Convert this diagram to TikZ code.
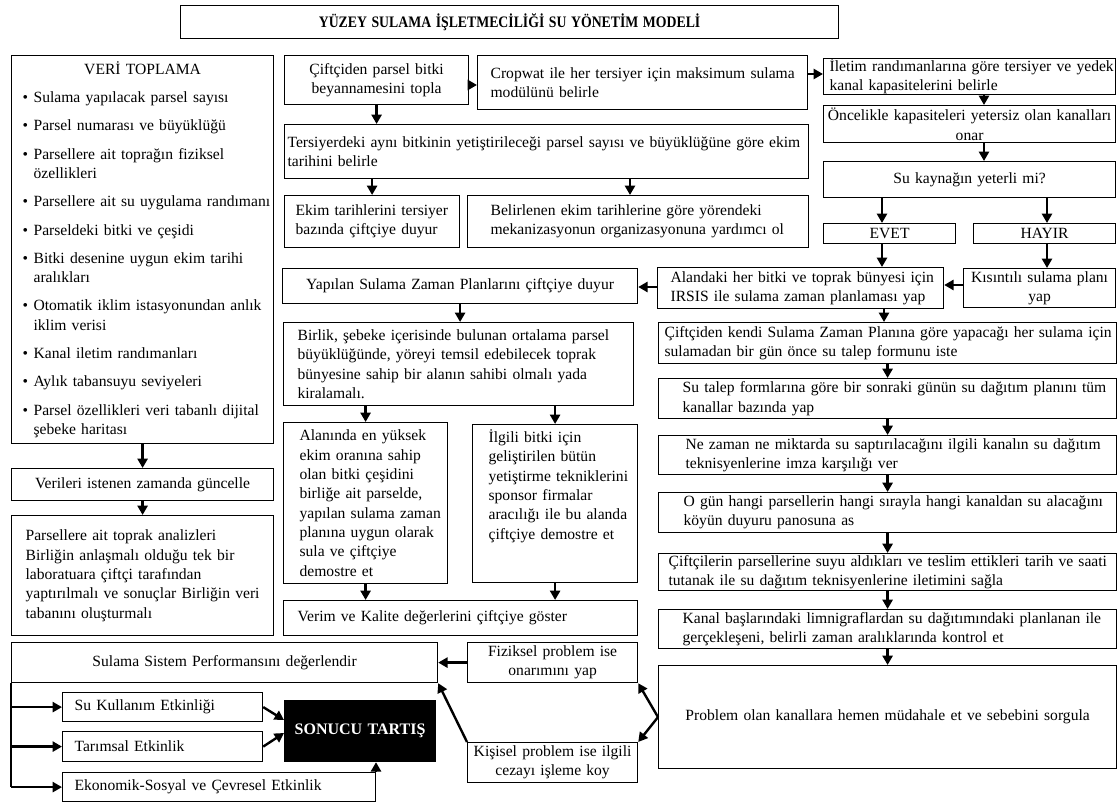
\documentclass[tikz,border=0pt]{standalone}
\usepackage{fontspec}
\usepackage{graphicx}
\setmainfont{Liberation Serif}
\usetikzlibrary{arrows.meta}

\newcommand{\pu}{0.75pt}
\newcommand{\vitem}[1]{\par\vspace{6.7pt}\hangindent=8.25pt\hangafter=1\noindent\hbox to 8.25pt{\textbullet\hfil}#1}

\tikzset{
  box/.style={draw, line width=0.9pt, inner sep=0pt, anchor=north west,
    font=\fontsize{11.7}{14.5}\selectfont},
  lbox/.style n args={3}{box, align=left, minimum width=#1*\pu, minimum height=#2*\pu,
    text width=#1*\pu,
    execute at begin node={\pgfmathsetlength\leftskip{#3*\pu}\rightskip=-10pt plus 1fil\relax}},
  cbox/.style 2 args={box, align=center, minimum width=#1*\pu, minimum height=#2*\pu,
    text width=#1*\pu},
  arr/.style={-{Triangle[length=7pt,width=7.5pt]}, line width=1.8pt},
}

\begin{document}
\begin{tikzpicture}[x=0.75pt, y=-0.75pt, line join=miter]
  \useasboundingbox (0,0) rectangle (1118,802);

  % title
  \node[cbox={658}{33}, font=\fontsize{12}{14.5}\selectfont\bfseries] (title) at (180,5)
    {\scalebox{0.86}[1]{YÜZEY SULAMA İŞLETMECİLİĞİ SU YÖNETİM MODELİ}};

  % left column: data collection
  \node[lbox={262}{388}{11}] (veri) at (11,55) {{\centering VERİ TOPLAMA\par}
    \vitem{Sulama yapılacak parsel sayısı}
    \vitem{Parsel numarası ve büyüklüğü}
    \vitem{Parsellere ait toprağın fiziksel\newline özellikleri}
    \vitem{Parsellere ait su uygulama randımanı}
    \vitem{Parseldeki bitki ve çeşidi}
    \vitem{Bitki desenine uygun ekim tarihi\newline aralıkları}
    \vitem{Otomatik iklim istasyonundan anlık\newline iklim verisi}
    \vitem{Kanal iletim randımanları}
    \vitem{Aylık tabansuyu seviyeleri}
    \vitem{Parsel özellikleri veri tabanlı dijital\newline şebeke haritası}\par};
  \node[cbox={262}{32}] (guncel) at (11,468) {Verileri istenen zamanda güncelle};
  \node[lbox={262}{120}{14}] (analiz) at (11,515) {Parsellere ait toprak analizleri\\
    Birliğin anlaşmalı olduğu tek bir\\ laboratuara çiftçi tarafından\\
    yaptırılmalı ve sonuçlar Birliğin veri\\ tabanını oluşturmalı};

  % middle column
  \node[cbox={184}{49}] (ciftci) at (284,55) {Çiftçiden parsel bitki\\ beyannamesini topla};
  \node[lbox={330}{54}{13}] (cropwat) at (477,55) {Cropwat ile her tersiyer için maksimum sulama\\ modülünü belirle};
  \node[lbox={524}{54}{3}] (tersiyer) at (284,124) {Tersiyerdeki aynı bitkinin yetiştirileceği parsel sayısı ve büyüklüğüne göre ekim\\ tarihini belirle};
  \node[lbox={175}{52}{11}] (ekim) at (284,195) {Ekim tarihlerini tersiyer\\ bazında çiftçiye duyur};
  \node[lbox={341}{52}{23}] (mekan) at (467,195) {Belirlenen ekim tarihlerine göre yörendeki\\ mekanizasyonun organizasyonuna yardımcı ol};
  \node[cbox={355}{35}] (yapilan) at (282,268) {Yapılan Sulama Zaman Planlarını çiftçiye duyur};
  \node[lbox={350}{83}{14}] (birlik) at (283,322) {Birlik, şebeke içerisinde bulunan ortalama parsel\\
    büyüklüğünde, yöreyi temsil edebilecek toprak\\ bünyesine sahip bir alanın sahibi olmalı yada\\ kiralamalı.};
  \node[lbox={164}{161}{16}] (alanin) at (283,422) {Alanında en yüksek\\ ekim oranına sahip\\ olan bitki çeşidini\\
    birliğe ait parselde,\\ yapılan sulama zaman\\ planına uygun olarak\\ sula ve çiftçiye\\ demostre et};
  \node[lbox={165}{158}{16}] (ilgili) at (472,424) {İlgili bitki için\\ geliştirilen bütün\\ yetiştirme tekniklerini\\
    sponsor firmalar\\ aracılığı ile bu alanda\\ çiftçiye demostre et\\ ~\\ ~};
  \node[lbox={354}{35}{14}] (verim) at (283,600) {Verim ve Kalite değerlerini çiftçiye göster};

  % right column
  \node[lbox={292}{32}{6}] (iletim) at (823,58) {İletim randımanlarına göre tersiyer ve yedek\\ kanal kapasitelerini belirle};
  \node[cbox={292}{37}] (onar) at (823,105) {Öncelikle kapasiteleri yetersiz olan kanalları\\ onar};
  \node[cbox={292}{36}] (kaynak) at (823,161) {Su kaynağın yeterli mi?};
  \node[cbox={132}{20}] (evet) at (823,223) {EVET};
  \node[cbox={142}{20}] (hayir) at (973,223) {HAYIR};
  \node[cbox={152}{39}] (kisinti) at (963,268) {Kısıntılı sulama planı\\ yap};
  \node[lbox={286}{41}{13}] (irsis) at (657,267) {Alandaki her bitki ve toprak bünyesi için\\ IRSIS ile sulama zaman planlaması yap};
  \node[lbox={458}{41}{6}] (talepiste) at (658,322) {Çiftçiden kendi Sulama Zaman Planına göre yapacağı her sulama için\\ sulamadan bir gün önce su talep formunu iste};
  \node[lbox={458}{40}{24}] (dagitim) at (658,378) {Su talep formlarına göre bir sonraki günün su dağıtım planını tüm\\ kanallar bazında yap};
  \node[lbox={458}{39}{27}] (imza) at (658,435) {Ne zaman ne miktarda su saptırılacağını ilgili kanalın su dağıtım\\ teknisyenlerine imza karşılığı ver};
  \node[lbox={458}{40}{25}] (pano) at (658,492) {O gün hangi parsellerin hangi sırayla hangi kanaldan su alacağını\\ köyün duyuru panosuna as};
  \node[lbox={458}{37}{10}] (tutanak) at (658,553) {Çiftçilerin parsellerine suyu aldıkları ve teslim ettikleri tarih ve saati\\ tutanak ile su dağıtım teknisyenlerine iletimini sağla};
  \node[lbox={458}{39}{24}] (kontrol) at (658,609) {Kanal başlarındaki limnigraflardan su dağıtımındaki planlanan ile\\ gerçekleşeni, belirli zaman aralıklarında kontrol et};
  \node[cbox={458}{103}] (problem) at (658,665) {Problem olan kanallara hemen müdahale et ve sebebini sorgula};
  \node[cbox={170}{40}] (fizik) at (467,642) {Fiziksel problem ise\\ onarımını yap};
  \node[cbox={170}{40}] (kisisel) at (467,742) {Kişisel problem ise ilgili\\ cezayı işleme koy};

  % bottom left: performance evaluation
  \node[cbox={426}{40}] (perf) at (11,642) {Sulama Sistem Performansını değerlendir};
  \node[lbox={200}{29}{12}] (sukul) at (62,692) {Su Kullanım Etkinliği};
  \node[lbox={200}{30}{12}] (tarim) at (62,731) {Tarımsal Etkinlik};
  \node[lbox={313}{29}{12}] (ekon) at (62,772) {Ekonomik-Sosyal ve Çevresel Etkinlik};
  \node[cbox={151}{61}, fill=black, text=white, font=\fontsize{12}{14.5}\selectfont\bfseries] (sonuc) at (284,700) {SONUCU TARTIŞ};

  % connectors, left
  \draw[arr] (veri.south) -- (guncel.north);
  \draw[arr] (guncel.south) -- (analiz.north);

  % connectors, middle
  \draw[arr] (ciftci.east |- 0,85) -- (cropwat.west |- 0,85);
  \draw[arr] (cropwat.east |- 0,74) -- (iletim.west |- 0,74);
  \draw[arr] (ciftci.south) -- (ciftci.south |- tersiyer.north);
  \draw[arr] (ekim.north |- tersiyer.south) -- (ekim.north);
  \draw[arr] (630,0 |- tersiyer.south) -- (630,0 |- mekan.north);
  \draw[arr] (yapilan.south) -- (yapilan.south |- birlik.north);
  \draw[arr] (alanin.north |- birlik.south) -- (alanin.north);
  \draw[arr] (ilgili.north |- birlik.south) -- (ilgili.north);
  \draw[arr] (alanin.south) -- (alanin.south |- verim.north);
  \draw[arr] (ilgili.south) -- (ilgili.south |- verim.north);

  % connectors, right
  \draw[arr] (984,0 |- iletim.south) -- (984,0 |- onar.north);
  \draw[arr] (984,0 |- onar.south) -- (984,0 |- kaynak.north);
  \draw[arr] (882,0 |- kaynak.south) -- (882,0 |- evet.north);
  \draw[arr] (1047,0 |- kaynak.south) -- (1047,0 |- hayir.north);
  \draw[arr] (882,0 |- evet.south) -- (882,0 |- irsis.north);
  \draw[arr] (1047,0 |- hayir.south) -- (1047,0 |- kisinti.north);
  \draw[arr] (kisinti.west |- 0,285) -- (irsis.east |- 0,285);
  \draw[arr] (irsis.west |- 0,287) -- (yapilan.east |- 0,287);
  \draw[arr] (884,0 |- irsis.south) -- (884,0 |- talepiste.north);
  \draw[arr] (talepiste.south) -- (dagitim.north);
  \draw[arr] (dagitim.south) -- (imza.north);
  \draw[arr] (imza.south) -- (pano.north);
  \draw[arr] (pano.south) -- (tutanak.north);
  \draw[arr] (tutanak.south) -- (kontrol.north);
  \draw[arr] (kontrol.south) -- (problem.north);
  \draw[arr] (problem.west) -- (fizik.south east);
  \draw[arr] (problem.west) -- (kisisel.north east);
  \draw[arr] (fizik.west) -- (fizik.west -| perf.east);
  \draw[arr] (kisisel.north west) -- (perf.south east);

  % connectors, bottom left
  \draw[line width=0.9pt] (perf.south west) -- (perf.south west |- ekon.west);
  \draw[arr] (perf.south west |- sukul.west) -- (sukul.west);
  \draw[arr] (perf.south west |- tarim.west) -- (tarim.west);
  \draw[arr] (perf.south west |- ekon.west) -- (ekon.west);
  \draw[arr] (sukul.east) -- (sonuc.west |- 0,720);
  \draw[arr] (tarim.east) -- (sonuc.west |- 0,733);
  \draw[arr] (376,0 |- ekon.north) -- (376,0 |- sonuc.south);

\end{tikzpicture}
\end{document}
